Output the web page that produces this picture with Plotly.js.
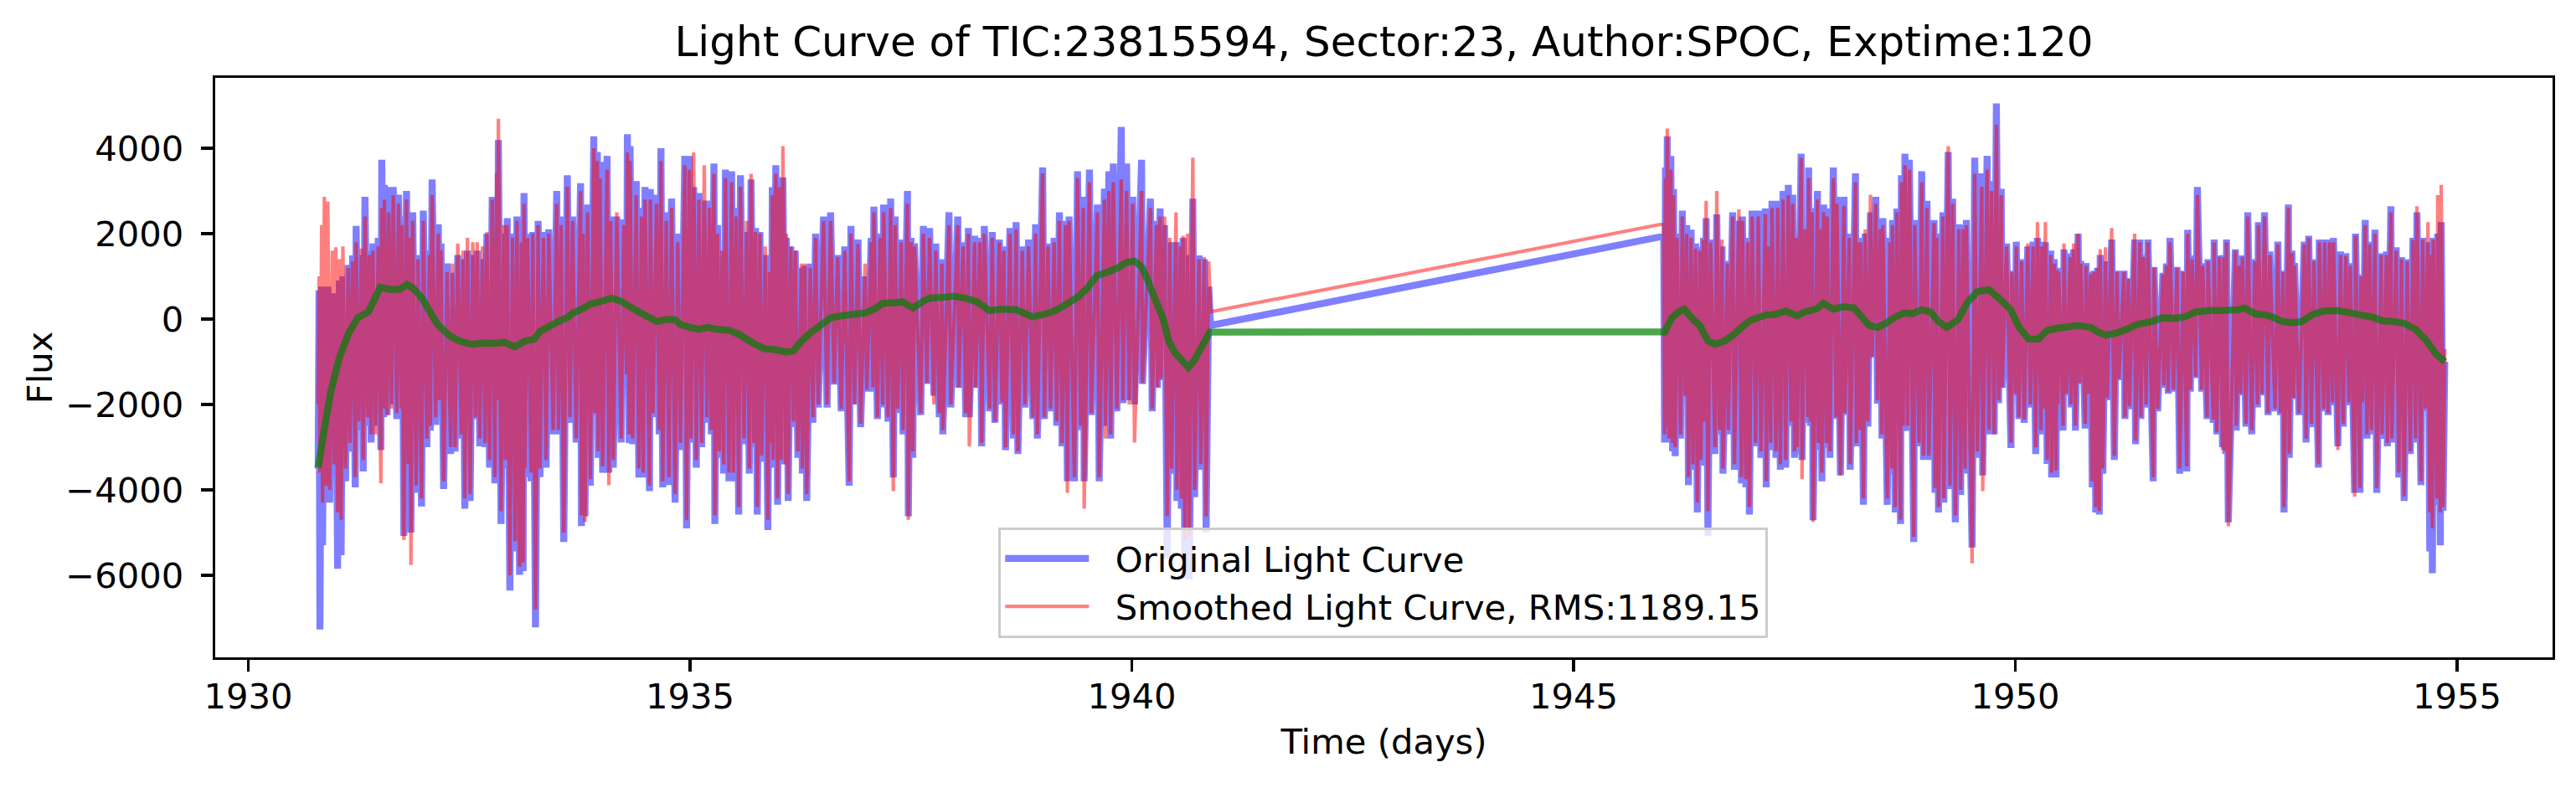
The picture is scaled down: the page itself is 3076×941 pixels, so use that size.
<!DOCTYPE html>
<html>
<head>
<meta charset="utf-8">
<script src="https://cdn.plot.ly/plotly-3.0.1.min.js"></script>
<style>html,body{margin:0;padding:0;background:#fff;}#chart{width:3076px;height:941px;}</style>
</head>
<body>
<div id="chart"></div>
<script>
// ---- Segment 1 (orbit 1): time, original flux, smoothed flux ----
var T1 = [1930.79,1930.80,1930.81,1930.83,1930.84,1930.86,1930.88,1930.90,1930.92,1930.95,1930.97,1930.99,1931.01,1931.03,1931.05,1931.07,1931.10,1931.13,1931.15,1931.18,
1931.21,1931.22,1931.25,1931.28,1931.30,1931.32,1931.35,1931.37,1931.39,1931.41,1931.44,1931.47,1931.50,1931.51,1931.53,1931.54,1931.57,1931.59,1931.62,1931.64,
1931.68,1931.70,1931.73,1931.74,1931.76,1931.79,1931.81,1931.83,1931.84,1931.86,1931.90,1931.92,1931.96,1931.98,1932.02,1932.05,1932.06,1932.08,1932.12,1932.15,
1932.16,1932.18,1932.21,1932.25,1932.29,1932.31,1932.34,1932.37,1932.41,1932.43,1932.45,1932.48,1932.51,1932.54,1932.57,1932.59,1932.62,1932.65,1932.68,1932.70,
1932.73,1932.76,1932.79,1932.81,1932.82,1932.83,1932.86,1932.89,1932.91,1932.93,1932.96,1932.99,1933.02,1933.04,1933.07,1933.09,1933.11,1933.12,1933.13,1933.16,
1933.20,1933.22,1933.25,1933.28,1933.30,1933.34,1933.37,1933.40,1933.45,1933.49,1933.51,1933.54,1933.57,1933.61,1933.64,1933.67,1933.71,1933.76,1933.77,1933.79,
1933.81,1933.84,1933.87,1933.91,1933.92,1933.95,1933.96,1933.98,1934.01,1934.06,1934.08,1934.10,1934.13,1934.17,1934.22,1934.25,1934.28,1934.29,1934.31,1934.32,
1934.35,1934.39,1934.42,1934.45,1934.47,1934.49,1934.54,1934.55,1934.58,1934.62,1934.65,1934.67,1934.69,1934.73,1934.76,1934.79,1934.83,1934.86,1934.89,1934.94,
1934.96,1934.99,1935.01,1935.04,1935.07,1935.10,1935.13,1935.16,1935.19,1935.22,1935.24,1935.27,1935.28,1935.31,1935.33,1935.36,1935.38,1935.40,1935.44,1935.47,
1935.49,1935.52,1935.55,1935.57,1935.61,1935.64,1935.67,1935.69,1935.72,1935.74,1935.76,1935.79,1935.81,1935.85,1935.88,1935.90,1935.92,1935.93,1935.94,1935.97,
1935.99,1936.01,1936.03,1936.05,1936.08,1936.09,1936.11,1936.14,1936.17,1936.19,1936.22,1936.26,1936.27,1936.30,1936.32,1936.36,1936.39,1936.42,1936.45,1936.51,
1936.55,1936.59,1936.63,1936.67,1936.71,1936.75,1936.80,1936.82,1936.86,1936.90,1936.93,1936.98,1937.00,1937.05,1937.07,1937.08,1937.12,1937.15,1937.18,1937.19,
1937.24,1937.27,1937.30,1937.32,1937.35,1937.39,1937.41,1937.46,1937.47,1937.50,1937.52,1937.54,1937.61,1937.64,1937.68,1937.71,1937.76,1937.78,1937.82,1937.85,
1937.86,1937.93,1937.95,1938.03,1938.04,1938.09,1938.12,1938.15,1938.16,1938.22,1938.23,1938.28,1938.30,1938.33,1938.39,1938.42,1938.45,1938.50,1938.53,1938.55,
1938.57,1938.62,1938.66,1938.69,1938.71,1938.76,1938.79,1938.83,1938.88,1938.91,1938.93,1938.99,1939.01,1939.05,1939.08,1939.12,1939.15,1939.18,1939.21,1939.25,
1939.27,1939.29,1939.35,1939.385,1939.42,1939.45,1939.46,1939.52,1939.54,1939.61,1939.63,1939.69,1939.70,1939.74,1939.76,1939.79,1939.83,1939.88,1939.90,1939.94,
1939.97,1940.01,1940.03,1940.11,1940.12,1940.21,1940.23,1940.28,1940.29,1940.32,1940.33,1940.37,1940.40,1940.43,1940.45,1940.50,1940.51,1940.55,1940.56,1940.58,
1940.60,1940.63,1940.65,1940.69,1940.71,1940.76,1940.78,1940.82,1940.84,1940.87,1940.89];
var B1 = [-3500,670,-7270,760,-5300,700,-4260,760,-4300,600,-3650,500,-5850,900,-5530,1000,-3800,1270,-3100,1490,
-3940,2180,-2600,1500,-3570,2860,-2500,1600,-2890,1770,-2500,1900,-3070,3730,-2300,3140,-2250,3090,-2000,3090,
-2340,2910,-2200,2400,-5080,3000,-3500,2000,-5000,2500,-4070,1500,-4390,2540,-3000,1600,-2610,3270,-2480,2220,
-2000,1770,-3980,1300,-3160,1080,-3100,1500,-2800,1400,-4440,1600,-4260,1500,-2340,1600,-2980,1400,-3000,2000,
-3480,2860,-3850,2500,-2000,4190,-4800,2000,-3500,2360,-6360,2000,-5440,2400,-5990,1900,-5900,2950,-3700,2000,
-3800,2040,-7220,2300,-3700,2040,-3480,2100,-2700,3000,-2700,2400,-5220,3365,-2430,2400,-2890,3180,-4850,2200,
-4620,2680,-3900,4280,-2250,3910,-3250,3680,-3600,3820,-3600,2400,-3480,2400,-2890,2330,-1340,4330,-2900,4050,
-2930,3230,-3710,2600,-3710,3090,-4030,3045,-2300,2910,-2700,4000,-3940,2500,-3890,2820,-4300,2000,-3070,3820,
-4900,3820,-2890,3091,-3480,2950,-3000,2772,-2430,2772,-2700,3640,-4800,2200,-3250,1450,-3620,3500,-3800,3460,
-3800,2600,-4580,3365,-2930,2040,-3620,3270,-3000,2130,-4580,2040,-3340,1500,-4940,855,-3000,3090,-3480,3600,
-4350,2700,-3400,3320,-3400,1900,-4260,1700,-2530,1600,-3250,1200,-3620,1250,-4260,1300,-2430,2000,-2070,2400,
-2070,2500,-1530,1500,-2160,1700,-3900,2180,-2000,1860,-2530,1000,-1700,1900,-1700,2630,-2340,2000,-2070,2680,
-2400,2820,-3710,2400,-2200,1860,-2700,3000,-4620,1900,-3250,1770,-2250,2180,-1520,2130,-1790,1770,-2300,1400,
-2700,2500,-2070,2400,-1610,1800,-2300,2130,-2300,1950,-1610,1900,-2980,2180,-2160,2040,-2430,1860,-2000,1700,
-3070,2130,-2800,2270,-3160,1700,-2070,1860,-2340,2220,-2800,3550,-2340,1770,-2160,1900,-2500,2500,-2980,2300,
-3800,2400,-3800,3460,-2600,2860,-3800,3500,-2250,2680,-3800,3050,-2500,3460,-2800,3640,-2160,4500,-1970,3640,
-1900,2860,-2000,3730,-1520,2820,-2160,2300,-1610,2590,-1430,2200,-5600,1800,-3620,1800,-4260,1680,-4440,1900,
-6080,1500,-6100,2820,-4170,1490,-3530,1400,-4990,760,-150];
var R1 = [-2000,1000,-3600,2200,-4300,2860,-3900,2750,-4000,1600,-3400,1680,-4530,1400,-4700,1700,-3500,1200,-2900,1350,
-3700,1800,-2400,1650,-3300,2400,-2300,1500,-2700,1600,-2700,1700,-3850,2600,-2100,2800,-2250,2500,-2100,2900,
-2200,2700,-2100,2200,-5170,2800,-3400,1900,-5760,2300,-3900,1400,-4200,2300,-2800,1500,-2500,2900,-2300,2000,
-1900,1600,-3800,1100,-3000,1300,-3000,1770,-2700,1600,-4200,1900,-4100,1800,-2300,1800,-2800,1700,-2900,2040,
-3300,2800,-3700,3410,-1900,4690,-4500,2200,-3300,2200,-6000,1900,-5200,2300,-5800,1800,-5700,2700,-3500,1900,
-3600,2000,-6800,2200,-3500,1900,-3300,2000,-2600,2700,-2600,2200,-5000,3100,-2300,2300,-2800,3000,-4600,2000,
-4750,2500,-3750,4000,-2200,3700,-3100,3300,-3450,3500,-3890,2300,-3300,2500,-2800,2200,-1300,3900,-2700,3700,
-2800,2900,-3500,2400,-3600,2800,-3900,2800,-2200,2700,-2600,3700,-3800,2300,-3700,2600,-4100,1800,-2900,3600,
-4700,3500,-2800,3900,-3300,2800,-2900,3600,-2300,2600,-2600,3400,-4600,2000,-3100,1600,-3400,3300,-3600,3200,
-3600,2400,-4400,3100,-2800,2300,-3500,3400,-2900,2040,-4400,2000,-3200,1700,-4700,1100,-2900,2900,-3300,3400,
-4200,3090,-3300,4050,-3400,2000,-4100,1700,-2400,1600,-3100,1300,-3500,1300,-4100,1200,-2300,1900,-2000,2300,
-2000,2300,-1500,1450,-2100,1600,-3800,2000,-2000,1760,-2450,1300,-1650,1800,-1600,2500,-2300,1900,-2000,2500,
-2300,2600,-4030,2200,-2100,1800,-2600,2700,-4700,1800,-3100,1700,-2200,2000,-1500,1900,-2000,1600,-2200,1300,
-2600,2200,-2000,2200,-1600,1700,-2200,2000,-2980,1800,-1600,1800,-2900,2000,-2100,1900,-2400,1800,-1950,1600,
-3000,2000,-2700,2100,-3100,1600,-2000,1700,-2300,2000,-2700,3410,-2300,1700,-2100,1800,-2400,2300,-2900,2200,
-4070,2300,-3700,3300,-2500,2600,-4440,3200,-2200,2500,-3700,2800,-2800,3000,-2700,3200,-2100,3270,-1900,3000,
-2000,2700,-2890,3000,-1500,2600,-2100,2200,-1600,2400,-1400,2400,-4620,1900,-3500,2500,-4000,1700,-4200,1950,
-5170,2000,-5080,3780,-4000,1400,-3400,1450,-4620,1350,170];

// ---- Segment 2 (orbit 2) ----
var T2 = [1946.02,1946.03,1946.04,1946.05,1946.06,1946.08,1946.10,1946.12,1946.13,1946.15,1946.17,1946.21,1946.23,1946.26,1946.28,1946.30,1946.33,1946.35,1946.38,1946.40,
1946.43,1946.44,1946.47,1946.48,1946.50,1946.52,1946.55,1946.60,1946.62,1946.65,1946.68,1946.69,1946.74,1946.75,1946.80,1946.82,1946.87,1946.90,1946.91,1946.95,
1946.97,1946.99,1947.02,1947.06,1947.09,1947.12,1947.17,1947.18,1947.20,1947.23,1947.245,1947.29,1947.31,1947.34,1947.37,1947.40,1947.43,1947.46,1947.48,1947.50,
1947.52,1947.53,1947.575,1947.585,1947.62,1947.65,1947.66,1947.68,1947.70,1947.71,1947.76,1947.77,1947.79,1947.81,1947.83,1947.86,1947.87,1947.90,1947.94,1947.97,
1947.98,1948.02,1948.06,1948.07,1948.12,1948.13,1948.19,1948.20,1948.22,1948.24,1948.25,1948.28,1948.30,1948.33,1948.36,1948.38,1948.42,1948.44,1948.47,1948.49,
1948.50,1948.55,1948.58,1948.60,1948.61,1948.64,1948.66,1948.70,1948.71,1948.73,1948.75,1948.78,1948.80,1948.85,1948.86,1948.91,1948.94,1948.96,1949.00,1949.02,
1949.08,1949.09,1949.11,1949.13,1949.18,1949.19,1949.24,1949.26,1949.29,1949.32,1949.36,1949.38,1949.41,1949.43,1949.445,1949.51,1949.54,1949.57,1949.62,1949.63,
1949.68,1949.70,1949.73,1949.76,1949.785,1949.81,1949.84,1949.85,1949.90,1949.95,1949.96,1950.00,1950.01,1950.04,1950.07,1950.10,1950.14,1950.17,1950.20,1950.23,
1950.25,1950.29,1950.30,1950.32,1950.34,1950.36,1950.40,1950.41,1950.44,1950.46,1950.47,1950.48,1950.49,1950.54,1950.55,1950.58,1950.62,1950.63,1950.66,1950.68,
1950.71,1950.73,1950.74,1950.79,1950.80,1950.82,1950.85,1950.87,1950.89,1950.91,1950.93,1950.95,1950.96,1950.99,1951.02,1951.04,1951.09,1951.12,1951.15,1951.17,
1951.23,1951.24,1951.28,1951.29,1951.35,1951.36,1951.41,1951.42,1951.45,1951.48,1951.50,1951.56,1951.57,1951.61,1951.67,1951.68,1951.71,1951.73,1951.75,1951.79,
1951.83,1951.86,1951.90,1951.94,1951.95,1951.98,1952.00,1952.04,1952.06,1952.11,1952.12,1952.17,1952.18,1952.24,1952.25,1952.28,1952.31,1952.345,1952.36,1952.38,
1952.39,1952.41,1952.49,1952.50,1952.53,1952.55,1952.57,1952.61,1952.63,1952.675,1952.71,1952.74,1952.75,1952.79,1952.82,1952.86,1952.88,1952.94,1952.97,1953.00,
1953.03,1953.04,1953.09,1953.10,1953.13,1953.15,1953.16,1953.21,1953.27,1953.29,1953.32,1953.35,1953.38,1953.43,1953.44,1953.49,1953.50,1953.54,1953.555,1953.59,
1953.60,1953.65,1953.68,1953.71,1953.74,1953.775,1953.79,1953.84,1953.85,1953.90,1953.91,1953.93,1953.96,1953.98,1954.01,1954.03,1954.07,1954.09,1954.14,1954.15,
1954.20,1954.21,1954.25,1954.26,1954.31,1954.34,1954.37,1954.40,1954.435,1954.47,1954.50,1954.53,1954.545,1954.59,1954.61,1954.64,1954.67,1954.69,1954.70,1954.72,
1954.73,1954.77,1954.78,1954.81,1954.82,1954.84,1954.86];
var B2 = [1940,-2890,3550,-2600,4280,-2890,3820,-3100,3045,-3210,2000,-2800,2540,-1800,2200,-3890,2090,-3530,1770,-4530,
1680,-3430,1900,-2500,2360,-5080,1860,-3160,2450,-2700,1700,-3620,1360,-2700,2500,-3530,2300,-3850,2400,-3940,
1900,-4580,2540,-2980,2540,-3250,2590,-3940,1800,-3070,2770,-3250,2770,-3530,3000,-3480,3140,-2500,2910,-3250,
2000,-3160,3870,-3300,2200,-2430,3550,-2500,2600,-4710,3000,-3070,2200,-3800,2680,-3020,2590,-3250,3550,-2340,
2860,-3660,2860,-2250,2000,-3530,3410,-2980,1900,-2700,1860,-4350,2000,-2520,2500,-880,2860,-1980,2200,-2800,
2360,-4350,1900,-3620,2320,-4530,2590,-4800,3365,-2600,3870,-2620,3730,-5220,2320,-2980,3460,-3300,2770,-3300,
2320,-4070,2000,-4530,2500,-4300,3910,-3980,2820,-4760,2220,-4120,2200,-3620,2320,-5350,3780,-3250,3410,-3660,
3820,-2700,3230,-2700,5050,-1970,3050,-1610,1770,-3020,1130,-1790,1810,-2340,1400,-2430,1700,-2070,1810,-3160,
1900,-2700,1810,-2200,1800,-3390,1600,-3710,1400,-3710,1200,-2070,1130,-2610,1630,-1790,1540,-2070,1630,-2610,
2000,-1520,1360,-2560,1310,-1790,1100,-3940,1130,-4530,1200,-4580,1500,-3620,1350,-1900,1860,-3300,1130,-1430,
1130,-2340,950,-2110,1860,-2930,1860,-2340,1500,-2070,1860,-3800,1220,-2160,1080,-1610,1300,-1750,1900,-1700,
1220,-3620,1130,-3570,2090,-1700,1490,-1380,3090,-1700,1310,-2340,1400,-2430,1860,-2700,1490,-3000,1500,-3160,
1860,-4760,1630,-2610,1300,-1790,1490,-2520,2500,-2700,1400,-2070,2270,-1790,2500,-2250,1580,-2160,1810,-2250,
1130,-4530,2680,-3250,1600,-1880,1310,-2250,1810,-2890,1950,-2530,1400,-3480,1860,-2160,1860,-2250,1860,-2020,
1900,-2980,1580,-2520,1540,-2020,1310,-4070,2000,-4070,1040,-2000,2320,-2800,1810,-2700,2090,-4070,1540,-2800,
1580,-2980,2640,-2890,1680,-3710,1450,-4260,1400,-3160,1900,-2890,2500,-3890,1900,-2160,1800,-5440,1600,-5950,
1900,-4350,2000,-5300,2270,-4490,-1000];
var R2 = [2230,-2700,3300,-2500,4460,-2800,3500,-2900,2900,-3000,1900,-2700,2400,-1800,2000,-3700,1900,-3400,1650,-4300,
1600,-3300,1850,-2400,2770,-4500,1800,-3000,3000,-2600,1860,-3500,1300,-2600,2400,-3400,2570,-3700,2300,-3750,
1800,-4400,2400,-2900,2400,-3100,2450,-3800,1700,-2900,2600,-3100,2600,-3400,2800,-3300,2900,-2400,2700,-3100,
1900,-3000,3780,-3750,2100,-2300,3300,-2400,2500,-4750,2800,-2900,2100,-3600,2500,-2900,2400,-3100,3300,-2300,
2700,-3660,2650,-2200,1900,-3400,3200,-2900,1800,-2600,1800,-4200,2100,-2400,2910,-900,2700,-1900,2100,-2700,
2200,-4200,1800,-3500,2200,-4400,2500,-4700,3200,-2500,3600,-2500,3500,-5100,2200,-2900,3200,-3200,2600,-3200,
2250,-3950,1900,-4400,2400,-4200,4050,-3900,2700,-4600,2100,-4000,2100,-3500,2200,-5720,3400,-3100,3100,-4030,
3500,-2600,3000,-2700,4550,-1900,2900,-1600,1700,-2900,1100,-1750,1700,-2300,1350,-2350,1770,-2000,1700,-3000,
2270,-2600,1700,-2100,2270,-3300,1500,-3600,1300,-3550,1150,-2000,1100,-2500,1770,-1750,1450,-2000,1770,-2500,
2000,-1500,1300,-2450,1250,-1750,1050,-3800,1100,-4400,1200,-4500,1630,-3500,1680,-1850,2130,-3200,1100,-1400,
1100,-2300,950,-2050,2000,-2850,1800,-2300,1450,-2000,1800,-3700,1200,-2100,1050,-1550,1250,-1700,1800,-1650,
1200,-3500,1100,-3450,2000,-1650,1400,-1350,2900,-1650,1250,-2300,1350,-2350,1800,-2650,1450,-3070,1450,-3100,
1800,-4850,1600,-2500,1250,-1750,1450,-2450,2400,-2600,1350,-2000,2200,-1750,2400,-2200,1500,-2100,1750,-2200,
1100,-4400,2600,-3150,1550,-1850,1250,-2200,1750,-2800,1900,-2450,1350,-3400,1800,-2100,1800,-2200,1800,-1950,
1800,-3070,1500,-2450,1480,-1950,1250,-4160,1950,-3950,1000,-1950,2200,-2700,1750,-2600,2000,-3950,1500,-2700,
1500,-2900,2500,-2800,1600,-3600,1400,-4150,1350,-3100,1850,-2800,2640,-3800,1850,-2100,2270,-4530,1500,-4900,
1850,-4200,2900,-4530,3140,-4400,-700];

// ---- Long-term trend (green) ----
var GT1 = [1930.79,1930.865,1930.933,1931.034,1931.136,1931.238,1931.322,1931.36,1931.424,1931.492,1931.61,1931.712,1931.796,1931.864,1931.965,1932.067,1932.152,1932.27,1932.389,1932.524,
1932.66,1932.795,1932.896,1933.015,1933.133,1933.235,1933.303,1933.404,1933.506,1933.607,1933.675,1933.777,1933.878,1933.996,1934.115,1934.217,1934.318,1934.42,1934.521,1934.623,
1934.724,1934.826,1934.894,1934.995,1935.097,1935.198,1935.3,1935.435,1935.571,1935.706,1935.842,1935.95,1936.085,1936.17,1936.254,1936.356,1936.474,1936.593,1936.728,1936.83,
1936.982,1937.083,1937.185,1937.304,1937.405,1937.524,1937.642,1937.71,1937.845,1937.98,1938.116,1938.251,1938.387,1938.522,1938.69,1938.793,1938.878,1939.03,1939.132,1939.267,
1939.402,1939.504,1939.605,1939.741,1939.842,1939.944,1940.029,1940.113,1940.181,1940.249,1940.35,1940.418,1940.486,1940.587,1940.638,1940.706,1940.79,1940.882];
var GV1 = [-3480,-2520,-1700,-880,-330,33,125,170,444,745,690,700,810,720,490,125,-150,-380,-515,-590,
-560,-565,-545,-650,-515,-470,-286,-177,-58,33,143,234,353,417,490,417,289,170,52,-58,
-12,-12,-131,-195,-240,-195,-240,-260,-377,-560,-697,-715,-770,-743,-533,-332,-150,33,79,106,
143,234,371,380,400,260,426,490,508,535,490,400,197,234,216,125,52,125,197,353,
535,745,1019,1110,1202,1330,1357,1220,900,535,33,-515,-788,-1016,-1135,-970,-650,-305];
var GT2 = [1946.03,1946.113,1946.191,1946.254,1946.333,1946.427,1946.521,1946.6,1946.71,1946.805,1946.899,1946.993,1947.087,1947.18,1947.276,1947.402,1947.527,1947.622,1947.748,1947.826,
1947.936,1948.062,1948.172,1948.25,1948.345,1948.439,1948.533,1948.628,1948.738,1948.832,1948.942,1949.036,1949.13,1949.225,1949.351,1949.46,1949.57,1949.697,1949.822,1949.948,
1950.042,1950.152,1950.262,1950.357,1950.48,1950.64,1950.694,1950.851,1950.946,1951.024,1951.134,1951.26,1951.386,1951.543,1951.669,1951.795,1951.92,1952.046,1952.203,1952.36,
1952.518,1952.596,1952.706,1952.832,1952.926,1953.02,1953.146,1953.24,1953.366,1953.492,1953.649,1953.775,1953.9,1954.027,1954.152,1954.278,1954.404,1954.53,1954.655,1954.75,1954.86];
var GV2 = [-300,33,170,234,33,-150,-515,-588,-515,-377,-195,-40,33,97,106,188,79,170,234,371,
234,289,260,79,-150,-195,-104,33,143,125,216,170,-58,-195,-12,400,645,690,472,216,
-195,-469,-469,-268,-213,-168,-150,-195,-314,-377,-332,-240,-122,-58,33,15,52,170,197,197,
216,260,125,97,33,-58,-86,-58,106,188,197,152,97,52,-40,-58,-104,-240,-515,-788,-1000];

// ---- Axis ticks & texts ----
var xTicks = [1930,1935,1940,1945,1950,1955];
var xTickText = ['1930','1935','1940','1945','1950','1955'];
var yTicks = [-6000,-4000,-2000,0,2000,4000];
var yTickText = ['\u22126000','\u22124000','\u22122000','0','2000','4000'];
var titleText = 'Light Curve of TIC:23815594, Sector:23, Author:SPOC, Exptime:120';
var legendOriginal = 'Original Light Curve';
var legendSmoothed = 'Smoothed Light Curve, RMS:1189.15';

var FONT = 'DejaVu Sans, Liberation Sans, sans-serif';
var PAD = '\u00A0\u00A0';
var T = T1.concat(T2), B = B1.concat(B2), R = R1.concat(R2);
var GT = GT1.concat(GT2), GV = GV1.concat(GV2);

var traces = [
  {x: T, y: B, type: 'scatter', mode: 'lines', name: PAD + legendOriginal,
   line: {color: 'rgba(0,0,255,0.5)', width: 8.3, simplify: false}, hoverinfo: 'skip'},
  {x: T, y: R, type: 'scatter', mode: 'lines', name: PAD + legendSmoothed,
   line: {color: 'rgba(255,0,0,0.5)', width: 4.2, simplify: false}, hoverinfo: 'skip'},
  {x: GT, y: GV, type: 'scatter', mode: 'lines', showlegend: false,
   line: {color: 'rgba(0,128,0,0.7)', width: 8.3, simplify: false}, hoverinfo: 'skip'}
];

var axisCommon = {
  showgrid: false, zeroline: false, showline: true, mirror: true,
  linecolor: '#000', linewidth: 3.3, ticks: 'outside', ticklen: 14, tickwidth: 3.3,
  tickcolor: '#000', tickfont: {family: FONT, size: 41.7, color: '#000'}, tickmode: 'array'
};

var layout = {
  width: 3076, height: 941,
  margin: {l: 257, r: 28, t: 93, b: 156, pad: 0},
  paper_bgcolor: '#fff', plot_bgcolor: '#fff',
  font: {family: FONT, color: '#000'},
  title: {text: titleText, font: {family: FONT, size: 50, color: '#000'},
          x: 0.5, xref: 'paper', xanchor: 'center', y: 0.947, yref: 'container', yanchor: 'middle'},
  xaxis: Object.assign({}, axisCommon, {
    range: [1929.625, 1956.08], tickvals: xTicks, ticktext: xTickText, ticklabelstandoff: -6,
    title: {text: 'Time (days)', font: {family: FONT, size: 41.7, color: '#000'}, standoff: 16}
  }),
  yaxis: Object.assign({}, axisCommon, {
    range: [-7922, 5647], tickvals: yTicks, ticktext: yTickText, ticklabelstandoff: 12,
    title: {text: 'Flux', font: {family: FONT, size: 41.7, color: '#000'}, standoff: 3}
  }),
  showlegend: true,
  legend: {x: 0.335, y: 0.224, xanchor: 'left', yanchor: 'top',
           bgcolor: 'rgba(255,255,255,0.8)', bordercolor: '#cccccc', borderwidth: 3.3,
           font: {family: FONT, size: 41.7, color: '#000'}, itemwidth: 100, tracegroupgap: 0}
};

Plotly.newPlot('chart', traces, layout, {staticPlot: true, displayModeBar: false});
</script>
</body>
</html>
